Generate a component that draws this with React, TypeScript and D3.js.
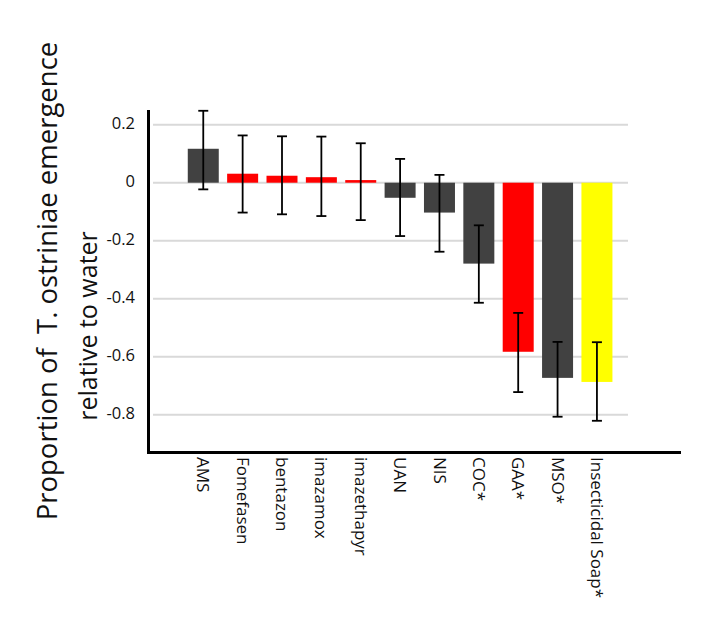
import React from "react";
import * as d3 from "d3";

const categories = ["AMS", "Fomefasen", "bentazon", "imazamox", "imazethapyr", "UAN", "NIS", "COC*", "GAA*", "MSO*", "Insecticidal Soap*"];
const values = [0.117, 0.031, 0.024, 0.019, 0.009, -0.052, -0.103, -0.279, -0.583, -0.673, -0.687];
const errUpper = [0.248, 0.163, 0.16, 0.159, 0.136, 0.082, 0.027, -0.147, -0.449, -0.549, -0.55];
const errLower = [-0.023, -0.103, -0.109, -0.115, -0.129, -0.184, -0.238, -0.414, -0.722, -0.807, -0.821];
const barGroups = ["gray", "red", "red", "red", "red", "gray", "gray", "gray", "red", "gray", "yellow"];
const yTicks = [0.2, 0, -0.2, -0.4, -0.6, -0.8];
const yTickLabels = ["0.2", "0", "-0.2", "-0.4", "-0.6", "-0.8"];
const titleLines = ["Proportion of  T. ostriniae emergence", "relative to water"];

const colorMap: Record<string, string> = { gray: "#414141", red: "#ff0000", yellow: "#ffff00" };
const FONT = "'Open Sans', 'Noto Sans', sans-serif";

export default function App() {
  const W = 720, H = 629;
  const x = d3.scaleBand<string>().domain(categories).range([179.4, 620.8]).padding(0.2126);
  const y = d3.scaleLinear().domain([-0.93, 0.25]).range([452.4, 110.2]);
  const axisX = 148.5;
  const axisY = 452.4;
  const cap = 5;

  return (
    <svg width={W} height={H} style={{ position: "absolute", left: 0, top: 0, background: "#fff" }}>
      <rect x={0} y={0} width={W} height={H} fill="#fff" />
      {yTicks.map((t, i) => (
        <g key={"g" + i}>
          <line x1={153} x2={628} y1={y(t)} y2={y(t)} stroke="#d9d9d9" strokeWidth={2} />
          <text x={135} y={y(t) - 1} dy="0.35em" textAnchor="end" fontFamily={FONT} fontSize={16.5} fill="#111">
            {yTickLabels[i]}
          </text>
        </g>
      ))}
      {categories.map((c, i) => {
        const v = values[i];
        const y0 = y(Math.max(0, v));
        const y1 = y(Math.min(0, v));
        return (
          <rect key={"b" + i} x={x(c)} y={y0} width={x.bandwidth()} height={y1 - y0} fill={colorMap[barGroups[i]]} />
        );
      })}
      {categories.map((c, i) => {
        const cx = (x(c) as number) + x.bandwidth() / 2;
        return (
          <g key={"e" + i} stroke="#000" strokeWidth={1.8}>
            <line x1={cx} x2={cx} y1={y(errUpper[i])} y2={y(errLower[i])} />
            <line x1={cx - cap} x2={cx + cap} y1={y(errUpper[i])} y2={y(errUpper[i])} />
            <line x1={cx - cap} x2={cx + cap} y1={y(errLower[i])} y2={y(errLower[i])} />
          </g>
        );
      })}
      <line x1={axisX} x2={axisX} y1={110} y2={axisY + 1.5} stroke="#000" strokeWidth={3} />
      <line x1={axisX - 1.5} x2={681} y1={axisY} y2={axisY} stroke="#000" strokeWidth={3} />
      {categories.map((c, i) => {
        const cx = (x(c) as number) + x.bandwidth() / 2;
        return (
          <text key={"l" + i} transform={`translate(${cx},${457}) rotate(90)`} dy="0.35em" fontFamily={FONT} fontSize={17} fill="#111">
            {c}
          </text>
        );
      })}
      <text transform={`translate(57,281) rotate(-90)`} textAnchor="middle" fontFamily={FONT} fontSize={27.5} fill="#111" style={{ whiteSpace: "pre" }}>
        {titleLines[0]}
      </text>
      <text transform={`translate(97,326) rotate(-90)`} textAnchor="middle" fontFamily={FONT} fontSize={25} fill="#111">
        {titleLines[1]}
      </text>
    </svg>
  );
}
